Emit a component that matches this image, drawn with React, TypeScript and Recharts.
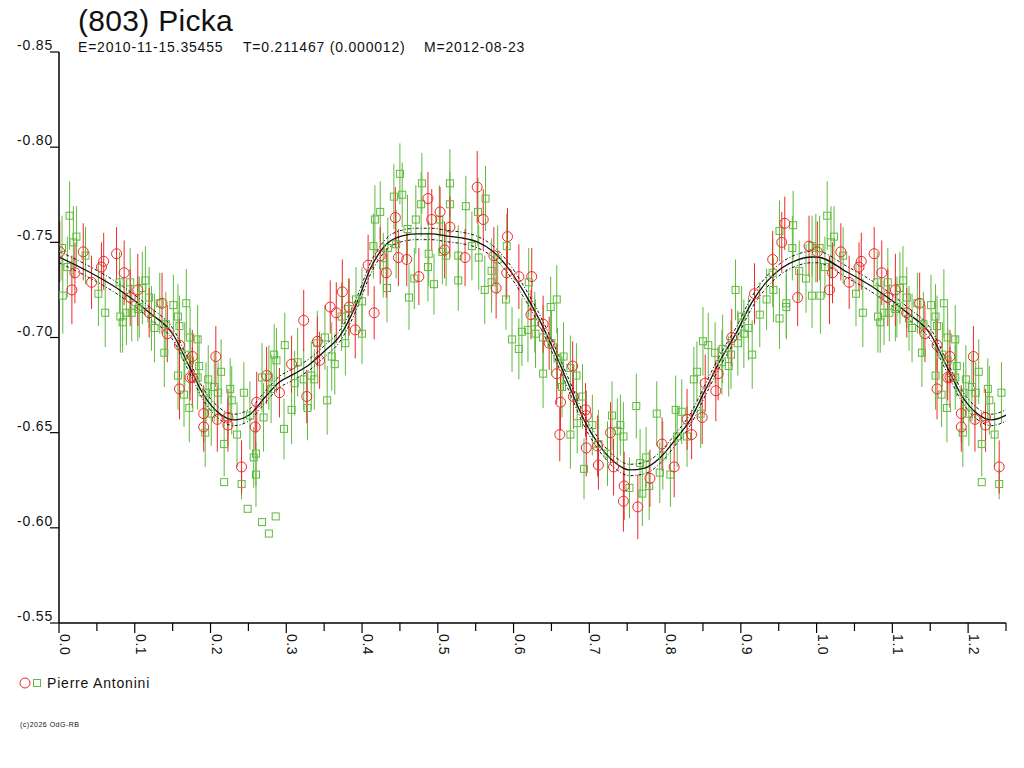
import React from 'react';
import { ComposedChart, Scatter, Line, XAxis, YAxis, ErrorBar } from 'recharts';

// [phase, magnitude, error], phase 0..1
const redObs: [number, number, number][] = [
  [0.001, -0.745, 0.016], [0.032, -0.745, 0.015], [0.021, -0.734, 0.016], [0.017, -0.725, 0.018],
  [0.043, -0.729, 0.014], [0.059, -0.740, 0.015], [0.056, -0.737, 0.013], [0.076, -0.744, 0.014],
  [0.086, -0.734, 0.017], [0.094, -0.721, 0.015], [0.104, -0.725, 0.019], [0.119, -0.713, 0.013],
  [0.136, -0.718, 0.016], [0.143, -0.702, 0.015], [0.159, -0.696, 0.014], [0.173, -0.679, 0.012],
  [0.159, -0.673, 0.016], [0.176, -0.690, 0.014], [0.176, -0.679, 0.016], [0.207, -0.690, 0.016],
  [0.191, -0.660, 0.015], [0.191, -0.653, 0.013], [0.209, -0.657, 0.017], [0.223, -0.658, 0.015],
  [0.223, -0.654, 0.014], [0.241, -0.632, 0.014], [0.261, -0.666, 0.016], [0.259, -0.653, 0.012],
  [0.274, -0.680, 0.015], [0.291, -0.671, 0.013], [0.307, -0.686, 0.015], [0.323, -0.709, 0.016],
  [0.327, -0.669, 0.014], [0.341, -0.698, 0.013], [0.344, -0.688, 0.015], [0.358, -0.716, 0.014],
  [0.366, -0.713, 0.016], [0.374, -0.724, 0.017], [0.383, -0.716, 0.015], [0.391, -0.704, 0.015],
  [0.408, -0.738, 0.016], [0.416, -0.713, 0.014], [0.424, -0.743, 0.015], [0.432, -0.734, 0.013],
  [0.444, -0.763, 0.016], [0.448, -0.742, 0.015], [0.459, -0.741, 0.014], [0.475, -0.732, 0.015],
  [0.487, -0.773, 0.014], [0.492, -0.762, 0.016], [0.503, -0.766, 0.013], [0.509, -0.746, 0.015],
  [0.516, -0.758, 0.016], [0.536, -0.742, 0.015], [0.552, -0.779, 0.019], [0.560, -0.762, 0.016],
  [0.574, -0.743, 0.015], [0.577, -0.726, 0.016], [0.592, -0.753, 0.015], [0.591, -0.734, 0.014],
  [0.607, -0.732, 0.017], [0.624, -0.732, 0.015], [0.623, -0.712, 0.013], [0.639, -0.707, 0.015],
  [0.647, -0.697, 0.014], [0.657, -0.681, 0.016], [0.662, -0.666, 0.015], [0.661, -0.649, 0.014],
  [0.678, -0.685, 0.013], [0.679, -0.669, 0.017], [0.695, -0.662, 0.014], [0.696, -0.659, 0.013],
  [0.696, -0.642, 0.015], [0.711, -0.643, 0.016], [0.712, -0.633, 0.013], [0.728, -0.650, 0.016],
  [0.732, -0.632, 0.015], [0.746, -0.622, 0.018], [0.745, -0.614, 0.016], [0.764, -0.611, 0.017],
  [0.780, -0.626, 0.015], [0.796, -0.644, 0.014], [0.812, -0.632, 0.016], [0.829, -0.657, 0.016],
  [0.835, -0.649, 0.013], [0.849, -0.658, 0.014], [0.853, -0.676, 0.015], [0.867, -0.672, 0.016],
  [0.870, -0.681, 0.014], [0.888, -0.700, 0.015], [0.918, -0.723, 0.016], [0.942, -0.741, 0.015],
  [0.954, -0.750, 0.016], [0.958, -0.760, 0.014], [0.975, -0.721, 0.015], [0.990, -0.748, 0.016],
];

const greenObs: [number, number, number][] = [
  [0.014, -0.764, 0.018], [0.023, -0.753, 0.016], [0.019, -0.750, 0.019], [0.004, -0.747, 0.017],
  [0.035, -0.743, 0.015], [0.011, -0.737, 0.016], [0.005, -0.722, 0.020], [0.052, -0.723, 0.017],
  [0.061, -0.713, 0.018], [0.080, -0.729, 0.016], [0.081, -0.711, 0.019], [0.084, -0.708, 0.016],
  [0.089, -0.713, 0.017], [0.094, -0.729, 0.018], [0.096, -0.713, 0.015], [0.104, -0.715, 0.017],
  [0.106, -0.716, 0.016], [0.110, -0.726, 0.019], [0.114, -0.730, 0.018], [0.119, -0.721, 0.016],
  [0.122, -0.710, 0.017], [0.126, -0.705, 0.018], [0.133, -0.718, 0.016], [0.141, -0.707, 0.017],
  [0.139, -0.692, 0.018], [0.151, -0.717, 0.016], [0.157, -0.711, 0.017], [0.159, -0.706, 0.016],
  [0.168, -0.718, 0.018], [0.166, -0.691, 0.017], [0.157, -0.680, 0.018], [0.165, -0.670, 0.017],
  [0.172, -0.663, 0.018], [0.173, -0.700, 0.016], [0.173, -0.688, 0.017], [0.183, -0.699, 0.018],
  [0.185, -0.685, 0.016], [0.183, -0.679, 0.017], [0.197, -0.678, 0.018], [0.194, -0.671, 0.016],
  [0.201, -0.660, 0.017], [0.205, -0.674, 0.018], [0.210, -0.671, 0.016], [0.214, -0.682, 0.017],
  [0.193, -0.650, 0.018], [0.218, -0.644, 0.017], [0.226, -0.673, 0.016], [0.228, -0.667, 0.018],
  [0.235, -0.649, 0.017], [0.244, -0.671, 0.016], [0.252, -0.659, 0.018], [0.260, -0.639, 0.017],
  [0.257, -0.637, 0.016], [0.260, -0.628, 0.017], [0.241, -0.623, 0.008], [0.218, -0.624, 0],
  [0.249, -0.610, 0], [0.268, -0.603, 0], [0.286, -0.606, 0], [0.277, -0.597, 0],
  [0.268, -0.679, 0.018], [0.277, -0.679, 0.017], [0.270, -0.658, 0.018], [0.284, -0.691, 0.016],
  [0.287, -0.688, 0.017], [0.280, -0.673, 0.018], [0.298, -0.696, 0.017], [0.297, -0.652, 0.016],
  [0.307, -0.662, 0.018], [0.311, -0.676, 0.017], [0.315, -0.687, 0.018], [0.323, -0.678, 0.016],
  [0.328, -0.663, 0.017], [0.333, -0.680, 0.018], [0.337, -0.678, 0.016], [0.341, -0.697, 0.017],
  [0.360, -0.690, 0.018], [0.364, -0.686, 0.016], [0.351, -0.700, 0.017], [0.354, -0.667, 0.018],
  [0.378, -0.697, 0.017], [0.373, -0.711, 0.018], [0.382, -0.715, 0.016], [0.392, -0.720, 0.017],
  [0.400, -0.719, 0.018], [0.400, -0.702, 0.016], [0.415, -0.748, 0.017], [0.417, -0.762, 0.018],
  [0.424, -0.766, 0.016], [0.428, -0.738, 0.017], [0.433, -0.726, 0.018], [0.434, -0.747, 0.016],
  [0.442, -0.774, 0.017], [0.445, -0.749, 0.018], [0.450, -0.786, 0.016], [0.453, -0.775, 0.017],
  [0.460, -0.757, 0.018], [0.462, -0.721, 0.017], [0.469, -0.731, 0.016], [0.471, -0.762, 0.018],
  [0.478, -0.770, 0.017], [0.479, -0.781, 0.016], [0.487, -0.737, 0.018], [0.488, -0.744, 0.017],
  [0.495, -0.728, 0.016], [0.502, -0.762, 0.018], [0.506, -0.745, 0.017], [0.511, -0.743, 0.016],
  [0.516, -0.781, 0.018], [0.516, -0.770, 0.017], [0.537, -0.769, 0.016], [0.553, -0.766, 0.018],
  [0.563, -0.773, 0.017], [0.527, -0.743, 0.016], [0.545, -0.748, 0.018], [0.554, -0.742, 0.017],
  [0.527, -0.730, 0.016], [0.579, -0.741, 0.018], [0.571, -0.735, 0.017], [0.571, -0.729, 0.016],
  [0.562, -0.725, 0.018], [0.591, -0.748, 0.017], [0.590, -0.720, 0.016], [0.620, -0.729, 0.018],
  [0.598, -0.699, 0.017], [0.607, -0.694, 0.016], [0.611, -0.703, 0.018], [0.619, -0.704, 0.017],
  [0.628, -0.708, 0.016], [0.629, -0.702, 0.018], [0.639, -0.700, 0.017], [0.649, -0.716, 0.016],
  [0.657, -0.720, 0.018], [0.650, -0.697, 0.017], [0.658, -0.689, 0.016], [0.666, -0.690, 0.018],
  [0.675, -0.684, 0.017], [0.664, -0.674, 0.016], [0.639, -0.681, 0.018], [0.683, -0.680, 0.017],
  [0.684, -0.655, 0.016], [0.675, -0.649, 0.018], [0.691, -0.669, 0.017], [0.704, -0.654, 0.016],
  [0.712, -0.644, 0.018], [0.724, -0.639, 0.017], [0.693, -0.631, 0.016], [0.730, -0.659, 0.018],
  [0.737, -0.651, 0.017], [0.741, -0.654, 0.016], [0.745, -0.648, 0.018], [0.762, -0.664, 0.017],
  [0.753, -0.621, 0.016], [0.767, -0.634, 0.018], [0.770, -0.618, 0.017], [0.775, -0.637, 0.016],
  [0.779, -0.622, 0.018], [0.789, -0.660, 0.017], [0.793, -0.629, 0.016], [0.797, -0.638, 0.018],
  [0.807, -0.628, 0.017], [0.816, -0.648, 0.016], [0.814, -0.662, 0.018], [0.822, -0.661, 0.017],
  [0.829, -0.648, 0.016], [0.847, -0.660, 0.018], [0.838, -0.678, 0.017], [0.842, -0.682, 0.016],
  [0.850, -0.698, 0.018], [0.857, -0.696, 0.017], [0.866, -0.692, 0.016], [0.876, -0.694, 0.018],
  [0.875, -0.687, 0.017], [0.884, -0.685, 0.016], [0.887, -0.691, 0.018], [0.896, -0.697, 0.017],
  [0.901, -0.711, 0.016], [0.904, -0.702, 0.018], [0.910, -0.705, 0.017], [0.893, -0.725, 0.016],
  [0.915, -0.691, 0.018], [0.925, -0.712, 0.017], [0.934, -0.720, 0.016], [0.942, -0.734, 0.018],
  [0.943, -0.725, 0.017], [0.951, -0.756, 0.016], [0.969, -0.759, 0.018], [0.968, -0.747, 0.017],
  [0.951, -0.710, 0.016], [0.960, -0.718, 0.018], [0.960, -0.716, 0.017], [0.977, -0.735, 0.016],
  [0.986, -0.731, 0.018], [0.994, -0.722, 0.017], [0.994, -0.748, 0.016], [0.999, -0.747, 0.018],
];

// fitted light curve [phase, magnitude]
const fitCurve: [number, number][] = [
  [0.000, -0.7423], [0.040, -0.7344], [0.080, -0.7250], [0.120, -0.7129], [0.151, -0.7013],
  [0.171, -0.6855], [0.191, -0.6698], [0.211, -0.6603], [0.231, -0.6567], [0.251, -0.6593],
  [0.271, -0.6682], [0.291, -0.6766], [0.311, -0.6810], [0.331, -0.6860], [0.351, -0.6930],
  [0.371, -0.7010], [0.392, -0.7170], [0.412, -0.7370], [0.432, -0.7490], [0.452, -0.7533],
  [0.472, -0.7544], [0.492, -0.7544], [0.512, -0.7533], [0.532, -0.7523], [0.552, -0.7502],
  [0.572, -0.7454], [0.592, -0.7370], [0.612, -0.7250], [0.633, -0.7102], [0.653, -0.6934],
  [0.673, -0.6750], [0.693, -0.6567], [0.713, -0.6435], [0.733, -0.6346], [0.753, -0.6304],
  [0.773, -0.6314], [0.793, -0.6367], [0.813, -0.6461], [0.833, -0.6567], [0.853, -0.6724],
  [0.873, -0.6882], [0.894, -0.7024], [0.914, -0.7181], [0.934, -0.7292], [0.954, -0.7365],
  [0.974, -0.7407], [0.994, -0.7423],
];
const FIT_BAND = 0.003;

const xTicks = [0, 0.05, 0.1, 0.15, 0.2, 0.25, 0.3, 0.35, 0.4, 0.45, 0.5, 0.55, 0.6, 0.65,
  0.7, 0.75, 0.8, 0.85, 0.9, 0.95, 1.0, 1.05, 1.1, 1.15, 1.2, 1.25];
const yTicks = [-0.85, -0.8, -0.75, -0.7, -0.65, -0.6, -0.55];

const RED = '#f02828';
const GREEN = '#5fba3c';
const FONT = '"Liberation Sans", Arial, sans-serif';

// phase plot shows 0..1.25, so copy the first quarter past 1.0
const fold = (rows: [number, number, number][]) => {
  const base = rows.map(([x, y, err]) => ({ x, y, err }));
  return [...base, ...base.filter((d) => d.x < 0.246).map((d) => ({ ...d, x: d.x + 1 }))];
};
const foldFit = (offset: number) => {
  const base = fitCurve.map(([x, y]) => ({ x, y: y + offset }));
  return [...base, ...base.filter((d) => d.x <= 0.26).map((d) => ({ ...d, x: d.x + 1 }))];
};

const redData = fold(redObs);
const greenData = fold(greenObs);
const fitData = foldFit(0);
const fitUpper = foldFit(-FIT_BAND);
const fitLower = foldFit(FIT_BAND);

const XTick = (props: any) => {
  const { x, y, payload } = props;
  const v = payload.value as number;
  const major = Math.round(v * 100) % 10 === 0;
  return (
    <g>
      <line x1={x} y1={y} x2={x} y2={y + (major ? 10 : 8)} stroke="#000" strokeWidth={1.2} />
      {major && (
        <text x={x + 1} y={y + 11} transform={`rotate(90 ${x + 1} ${y + 11})`}
          fontSize={14} fontFamily={FONT} fill="#111" letterSpacing={0.6}>
          {v.toFixed(1)}
        </text>
      )}
    </g>
  );
};

const YTick = (props: any) => {
  const { x, y, payload } = props;
  return (
    <g>
      <line x1={x - 9} y1={y} x2={x} y2={y} stroke="#000" strokeWidth={1.2} />
      <text x={x - 6} y={y - 2} textAnchor="end" fontSize={14} fontFamily={FONT} fill="#111" letterSpacing={0.8}>
        {(payload.value as number).toFixed(2)}
      </text>
    </g>
  );
};

const circleShape = (p: any) => (
  <circle cx={p.cx} cy={p.cy} r={5} fill="none" stroke={RED} strokeWidth={1} />
);
const squareShape = (p: any) => (
  <rect x={p.cx - 3.5} y={p.cy - 3.5} width={7} height={7} fill="none" stroke={GREEN} strokeWidth={1} />
);

const subStyle: React.CSSProperties = {
  position: 'absolute', top: 31, fontSize: 14, lineHeight: '16px', whiteSpace: 'pre', letterSpacing: 0.8,
};

const App: React.FC = () => {
  return (
    <div style={{ position: 'relative', width: 1008, height: 752, fontFamily: FONT, color: '#111' }}>
      <div style={{ position: 'absolute', left: 70, top: -4, fontSize: 30, lineHeight: '34px', letterSpacing: 0.3 }}>
        (803) Picka
      </div>
      <div style={{ ...subStyle, left: 70 }}>E=2010-11-15.35455</div>
      <div style={{ ...subStyle, left: 235 }}>T=0.211467 (0.000012)</div>
      <div style={{ ...subStyle, left: 416 }}>M=2012-08-23</div>

      <ComposedChart width={1000} height={660} margin={{ top: 44, right: 2, bottom: 5, left: 0 }}>
        <XAxis
          type="number"
          dataKey="x"
          domain={[0, 1.25]}
          ticks={xTicks}
          allowDataOverflow
          height={40}
          tickSize={0}
          tickMargin={0}
          tickLine={false}
          axisLine={{ stroke: '#000', strokeWidth: 1.5 }}
          tick={<XTick />}
          interval={0}
        />
        <YAxis
          type="number"
          dataKey="y"
          domain={[-0.85, -0.55]}
          ticks={yTicks}
          reversed
          allowDataOverflow
          width={51}
          tickSize={0}
          tickMargin={0}
          tickLine={false}
          axisLine={{ stroke: '#000', strokeWidth: 1.5 }}
          tick={<YTick />}
          interval={0}
        />
        <Scatter name="green" data={greenData} shape={squareShape} isAnimationActive={false}>
          <ErrorBar dataKey="err" direction="y" width={0} stroke={GREEN} strokeWidth={1} />
        </Scatter>
        <Scatter name="red" data={redData} shape={circleShape} isAnimationActive={false}>
          <ErrorBar dataKey="err" direction="y" width={0} stroke={RED} strokeWidth={1} />
        </Scatter>
        <Line data={fitUpper} dataKey="y" type="monotone" dot={false} activeDot={false}
          stroke="#111" strokeWidth={1} strokeDasharray="3 2 1 2" isAnimationActive={false} />
        <Line data={fitLower} dataKey="y" type="monotone" dot={false} activeDot={false}
          stroke="#111" strokeWidth={1} strokeDasharray="3 2 1 2" isAnimationActive={false} />
        <Line data={fitData} dataKey="y" type="monotone" dot={false} activeDot={false}
          stroke="#111" strokeWidth={1.3} isAnimationActive={false} />
      </ComposedChart>

      <svg style={{ position: 'absolute', left: 10, top: 667 }} width={36} height={16}>
        <circle cx={7} cy={8} r={5} fill="none" stroke={RED} strokeWidth={1} />
        <rect x={15.5} y={4.5} width={7} height={7} fill="none" stroke={GREEN} strokeWidth={1} />
      </svg>
      <div style={{ position: 'absolute', left: 39, top: 667, fontSize: 14, lineHeight: '16px', letterSpacing: 0.8 }}>
        Pierre Antonini
      </div>
      <div style={{ position: 'absolute', left: 12, top: 713, fontSize: 7, lineHeight: '8px', letterSpacing: 0.5 }}>
        (c)2026 OdG-RB
      </div>
    </div>
  );
};

export default App;
